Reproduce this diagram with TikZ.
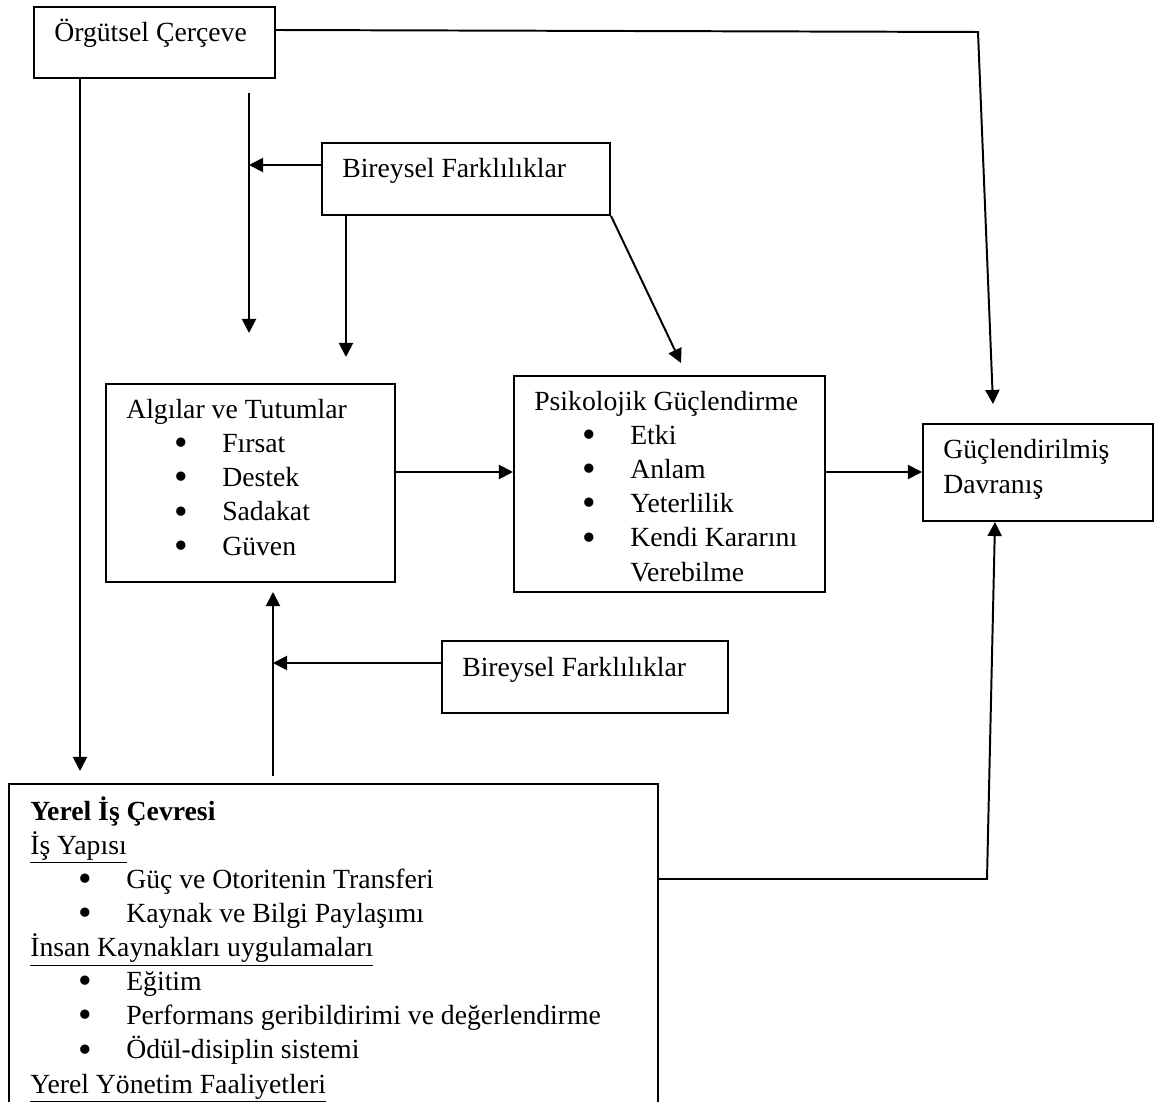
\documentclass[tikz,border=0pt]{standalone}
\usepackage{fontspec}
\setmainfont{Liberation Serif}
\usetikzlibrary{positioning,calc,arrows.meta}

\newlength{\pxu}
\setlength{\pxu}{0.025cm}
\newcommand{\madde}[1]{\hspace*{48\pxu}\makebox[48\pxu][l]{\raisebox{-0.11em}{\scalebox{1.4}{\textbullet}}}#1}

\tikzset{
  frame/.style={rectangle, draw, anchor=north west, inner sep=0pt, line width=1.4pt},
  boxtext/.style={anchor=base west, inner sep=0pt, align=left},
  link/.style={line width=1.4pt, -{Triangle[length=10pt,width=10pt]}}
}

\begin{document}
\begin{tikzpicture}[x=0.025cm, y=-0.025cm, font=\fontsize{19.7pt}{24.2pt}\selectfont]

\path [use as bounding box] (0,0) rectangle (1164,1102);
%[show background rectangle]

% Boxes
\draw (33,6) node [frame, minimum width=6.025cm, minimum height=1.775cm] (orgutsel) {};
\draw (321,142) node [frame, minimum width=7.2cm, minimum height=1.8cm] (bireysel1) {};
\draw (105,383) node [frame, minimum width=7.225cm, minimum height=4.95cm] (algilar) {};
\draw (513,375) node [frame, minimum width=7.775cm, minimum height=5.4cm] (psikolojik) {};
\draw (922,423) node [frame, minimum width=5.75cm, minimum height=2.425cm] (davranis) {};
\draw (441,640) node [frame, minimum width=7.15cm, minimum height=1.8cm] (bireysel2) {};
\draw (8,783) node [frame, minimum width=16.225cm, minimum height=8.5cm] (yerel) {};

% Texts (base = last line)
\draw ($(orgutsel.north west)+(21,36)$) node [boxtext] (orgutselText) {Örgütsel Çerçeve};
\draw ($(bireysel1.north west)+(21,36)$) node [boxtext] (bireysel1Text) {Bireysel Farklılıklar};
\draw ($(algilar.north west)+(21,172)$) node [boxtext] (algilarText) {Algılar ve Tutumlar\\
  \madde{Fırsat}\\ \madde{Destek}\\ \madde{Sadakat}\\ \madde{Güven}};
\draw ($(psikolojik.north west)+(21,206)$) node [boxtext] (psikolojikText) {Psikolojik Güçlendirme\\
  \madde{Etki}\\ \madde{Anlam}\\ \madde{Yeterlilik}\\ \madde{Kendi Kararını}\\ \hspace*{96\pxu}Verebilme};
\draw ($(davranis.north west)+(21,70)$) node [boxtext] (davranisText) {Güçlendirilmiş\\Davranış};
\draw ($(bireysel2.north west)+(21,36)$) node [boxtext] (bireysel2Text) {Bireysel Farklılıklar};
\draw ($(yerel.north west)+(22,310)$) node [boxtext] (yerelText) {\textbf{Yerel İş Çevresi}\\
  \underline{İş Yapısı}\\
  \madde{Güç ve Otoritenin Transferi}\\
  \madde{Kaynak ve Bilgi Paylaşımı}\\
  \underline{İnsan Kaynakları uygulamaları}\\
  \madde{Eğitim}\\
  \madde{Performans geribildirimi ve değerlendirme}\\
  \madde{Ödül-disiplin sistemi}\\
  \underline{Yerel Yönetim Faaliyetleri}};

% Free ends and bends
\coordinate (topBend) at (978,32);
\coordinate (davranisIn) at (993,404);
\coordinate (yerelIn) at (80,771);
\coordinate (modTop) at (249,93);
\coordinate (modEnd) at (249,333);
\coordinate (algilarIn) at (346,357);
\coordinate (psikolojikIn) at (681,363);
\coordinate (upStart) at (273,776);
\coordinate (upEnd) at (273,592);
\coordinate (botBend) at (987,879);
\coordinate (bf1Out) at ($(bireysel1.north west)+(0,23)$);
\coordinate (bf2Out) at ($(bireysel2.north west)+(0,23)$);
\coordinate (algOut) at ($(algilar.north east)+(0,89)$);
\coordinate (psyOut) at ($(psikolojik.north east)+(0,97)$);

% Lines
\draw [link] ($(orgutsel.north east)+(0,24)$) -- (topBend) -- (davranisIn);
\draw [link] ($(orgutsel.south west)+(47,0)$) -- (yerelIn);
\draw [link] (modTop) -- (modEnd);
\draw [link] (bf1Out) -- (bf1Out -| modTop);
\draw [link] (algilarIn |- bireysel1.south) -- (algilarIn);
\draw [link] (bireysel1.south east) -- (psikolojikIn);
\draw [link] (algOut) -- (algOut -| psikolojik.west);
\draw [link] (psyOut) -- (psyOut -| davranis.west);
\draw [link] (bf2Out) -- (bf2Out -| upStart);
\draw [link] (upStart) -- (upEnd);
\draw [link] ($(yerel.north east)+(0,96)$) -- (botBend) -- ($(davranis.south west)+(73,0)$);
\end{tikzpicture}
\end{document}
